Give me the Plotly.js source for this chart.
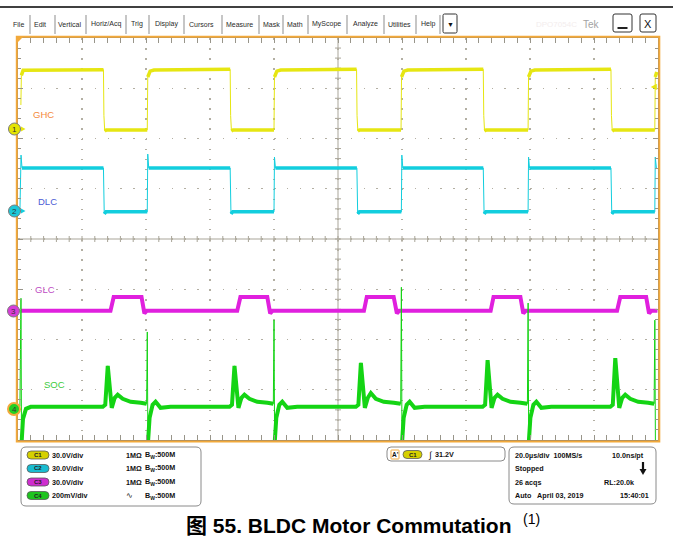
<!DOCTYPE html>
<html><head><meta charset="utf-8">
<script src="https://cdn.plot.ly/plotly-3.0.1.min.js"></script>
<style>html,body{margin:0;padding:0;background:#fff;}#chart{width:673px;height:550px;}</style>
</head><body><div id="chart"></div>
<script>
// ---------------- DATA (time in microseconds, values in volts) ----------------
const channelNames = ['GHC', 'DLC', 'GLC', 'SOC'];
const voltsPerDiv = [30, 30, 30, 0.2];
const timePerDiv = 20; // us/div, 10 divisions

const ghcTime = [0.9, 1.05, 1.6,
  26.7, 26.85, 27.1, 27.6, 40.4, 40.55, 41.3, 42.5,
  66.3, 66.45, 66.7, 67.2, 80.0, 80.15, 80.9, 82.1,
  105.8, 105.95, 106.2, 106.7, 119.7, 119.85, 120.6, 121.8,
  145.4, 145.55, 145.8, 146.3, 159.4, 159.55, 160.3, 161.5,
  185.3, 185.45, 185.7, 186.2, 199.0, 199.15, 199.6];
const ghcVolts = [14.3, 32.0, 35.0,
  35.4, 8.0, -1.2, -0.6, -0.6, 31.0, 34.5, 35.2,
  35.6, 8.0, -1.2, -0.6, -0.6, 31.0, 34.5, 35.2,
  35.6, 8.0, -1.2, -0.6, -0.6, 31.0, 34.5, 35.2,
  35.6, 8.0, -1.2, -0.6, -0.6, 31.0, 34.5, 35.2,
  35.6, 8.0, -1.2, -0.6, -0.6, 31.0, 34.0];

const dlcTime = [0.6, 0.95, 1.25,
  26.7, 26.95, 27.5, 40.4, 40.55, 40.85,
  66.3, 66.55, 67.1, 80.0, 80.15, 80.45,
  105.9, 106.15, 106.7, 119.8, 119.95, 120.25,
  145.4, 145.65, 146.2, 159.4, 159.55, 159.85,
  185.3, 185.55, 186.1, 199.0, 199.15, 199.5];
const dlcVolts = [-0.6, 33.3, 25.6,
  25.6, -1.8, -0.6, -0.6, 33.9, 25.6,
  25.6, -1.8, -0.6, -0.6, 32.1, 25.6,
  25.6, -1.8, -0.6, -0.6, 33.3, 25.6,
  25.6, -1.8, -0.6, -0.6, 32.1, 25.6,
  25.6, -1.8, -0.6, -0.6, 32.1, 25.6];

const glcTime = [0.9,
  28.9, 29.9, 38.6, 39.5, 40.2,
  68.5, 69.5, 77.9, 78.8, 79.5,
  108.1, 109.0, 117.4, 118.4, 119.1,
  147.7, 148.6, 157.0, 157.9, 158.6,
  187.2, 188.2, 196.3, 197.2, 197.9, 199.8];
const glcVolts = [0,
  0, 8.3, 8.3, -1.5, 0,
  0, 8.3, 8.3, -1.5, 0,
  0, 8.3, 8.3, -1.5, 0,
  0, 8.3, 8.3, -1.5, 0,
  0, 8.3, 8.3, -1.5, 0, 0];

const socTime = [0.6, 0.93, 1.1, 1.56, 2.49, 4.0,
  26.5, 27.27, 28.05, 28.67, 29.29, 30.23, 31.16, 32.72, 35.21, 38.33, 40.19, 40.41, 40.59, 41.12, 42.06, 42.99, 44.55, 47.67,
  66.1, 66.87, 67.65, 68.27, 68.89, 69.83, 70.76, 72.32, 74.81, 77.93, 79.79, 80.01, 80.19, 80.72, 81.66, 82.59, 84.15, 87.27,
  105.6, 106.37, 107.15, 107.77, 108.39, 109.33, 110.26, 111.82, 114.31, 117.43, 119.59, 119.81, 119.99, 120.52, 121.46, 122.39, 123.95, 127.07,
  145.2, 145.97, 146.75, 147.37, 147.99, 148.93, 149.86, 151.42, 153.91, 157.03, 159.19, 159.41, 159.59, 160.12, 161.06, 161.99, 163.55, 166.67,
  185.1, 185.87, 186.65, 187.27, 187.89, 188.83, 189.76, 191.32, 193.81, 196.93, 198.79, 199.01, 199.19, 199.5];
const socVolts = [0.010, 0.440, -0.140, -0.040, 0.000, 0.008,
  0.008, 0.016, 0.171, 0.095, 0.004, 0.044, 0.056, 0.040, 0.028, 0.024, 0.020, 0.306, -0.140, -0.036, 0.016, 0.028, 0.004, 0.008,
  0.008, 0.016, 0.171, 0.095, 0.004, 0.044, 0.056, 0.040, 0.028, 0.024, 0.020, 0.353, -0.140, -0.036, 0.016, 0.028, 0.004, 0.008,
  0.008, 0.016, 0.183, 0.095, 0.004, 0.044, 0.063, 0.040, 0.028, 0.024, 0.020, 0.484, -0.140, -0.036, 0.016, 0.028, 0.004, 0.008,
  0.008, 0.016, 0.194, 0.095, 0.004, 0.044, 0.056, 0.040, 0.028, 0.024, 0.020, 0.421, -0.140, -0.036, 0.016, 0.028, 0.004, 0.008,
  0.008, 0.016, 0.202, 0.095, 0.004, 0.044, 0.056, 0.040, 0.028, 0.024, 0.020, 0.353, -0.140, -0.140];

const channelSettings = ['30.0V/div', '30.0V/div', '30.0V/div', '200mV/div'];
const triggerLevel = '31.2V';
const acqInfo = ['20.0µs/div  100MS/s', '10.0ns/pt', 'Stopped', '26 acqs', 'RL:20.0k', 'Auto   April 03, 2019', '15:40:01'];
const menuItems = ['File', 'Edit', 'Vertical', 'Horiz/Acq', 'Trig', 'Display', 'Cursors', 'Measure', 'Mask', 'Math', 'MyScope', 'Analyze', 'Utilities', 'Help'];
const captionText = '图 55. BLDC Motor Commutation';

// ---------------- LAYOUT / STYLE ----------------
const L = 18, R = 658, T = 38, B = 440, FW = 673, FH = 550;
const W = R - L, H = B - T;
const X = p => (p - L) / W;
const Y = p => (B - p) / H;
const groundOffsetDiv = [2.19, 0.56, -1.43, -3.38];
const traceColors = ['#E6E612', '#12CEDE', '#E020DE', '#14D414'];
const bandWidth = [3.5, 3.5, 4, 4];
const FONT = "'Liberation Sans', Arial, sans-serif";

const series = [[ghcTime, ghcVolts], [dlcTime, dlcVolts], [glcTime, glcVolts], [socTime, socVolts]];
const traces = [{x: [null], y: [null], xaxis: 'x', yaxis: 'y', mode: 'lines', hoverinfo: 'skip', showlegend: false}];
series.forEach(([t, v], k) => {
  const ax = 'y' + (k + 2);
  traces.push({x: t, y: v, yaxis: ax, mode: 'lines', line: {color: traceColors[k], width: 1}, hoverinfo: 'skip', name: channelNames[k]});
  // thicker band on the flat (noisy) parts, gaps at fast edges
  const xs = [], ys = [];
  for (let i = 0; i < t.length; i++) {
    xs.push(t[i]); ys.push(v[i]);
    if (i < t.length - 1) {
      const dt = t[i + 1] - t[i];
      const dd = Math.abs(v[i + 1] - v[i]) / voltsPerDiv[k];
      if (dt < 0.4 && dd > 0.2) { xs.push(null); ys.push(null); }
    }
  }
  traces.push({x: xs, y: ys, yaxis: ax, mode: 'lines', connectgaps: false, line: {color: traceColors[k], width: bandWidth[k]}, hoverinfo: 'skip', name: channelNames[k]});
});

const gridCol = '#b3afa3', tickCol = '#98958a';
const layout = {
  width: FW, height: FH, margin: {l: L, r: FW - R, t: T, b: FH - B, pad: 0},
  paper_bgcolor: '#ffffff', plot_bgcolor: '#ffffff', showlegend: false,
  font: {family: FONT, color: '#222'},
  xaxis: {range: [0, 10 * timePerDiv], dtick: timePerDiv, tick0: 0, showgrid: true, gridcolor: gridCol, gridwidth: 1.2,
    griddash: '1.5px,8.55px', zeroline: false, showticklabels: false, ticks: 'inside', ticklen: 5, tickcolor: tickCol,
    showline: true, linecolor: '#7d7d7d', linewidth: 1.5, mirror: 'allticks',
    minor: {ticks: 'inside', dtick: timePerDiv / 5, ticklen: 3, tickcolor: tickCol, showgrid: false}, fixedrange: true},
  yaxis: {range: [-4, 4], dtick: 1, tick0: 0, showgrid: true, gridcolor: gridCol, gridwidth: 1.2,
    griddash: '1.5px,11.3px', zeroline: false, showticklabels: false, ticks: 'inside', ticklen: 5, tickcolor: tickCol,
    showline: true, linecolor: '#7d7d7d', linewidth: 1, mirror: 'allticks',
    minor: {ticks: 'inside', dtick: 0.2, ticklen: 3, tickcolor: tickCol, showgrid: false}, fixedrange: true},
  shapes: [], annotations: []
};
voltsPerDiv.forEach((s, k) => {
  const off = groundOffsetDiv[k];
  layout['yaxis' + (k + 2)] = {overlaying: 'y', range: [(-4 - off) * s, (4 - off) * s], visible: false, fixedrange: true};
});

const S = layout.shapes, A = layout.annotations;
// center crosshair
S.push({type: 'line', xref: 'x', yref: 'paper', x0: 5 * timePerDiv, x1: 5 * timePerDiv, y0: 0, y1: 1, line: {color: '#a9a599', width: 1}, layer: 'below'});
S.push({type: 'line', xref: 'paper', yref: 'y', x0: 0, x1: 1, y0: 0, y1: 0, line: {color: '#a9a599', width: 1}, layer: 'below'});
for (let i = 1; i < 50; i++) {
  const t = i * timePerDiv / 5;
  S.push({type: 'line', xref: 'x', yref: 'y', x0: t, x1: t, ysizemode: 'pixel', yanchor: 0, y0: -3, y1: 3, line: {color: '#a9a599', width: 1}, layer: 'below'});
}
for (let i = -19; i < 20; i++) {
  const d = i / 5;
  S.push({type: 'line', xref: 'x', yref: 'y', xsizemode: 'pixel', xanchor: 5 * timePerDiv, x0: -3, x1: 3, y0: d, y1: d, line: {color: '#a9a599', width: 1}, layer: 'below'});
}
// orange frame
const ORANGE = '#F2A93B';
S.push({type: 'rect', xref: 'paper', yref: 'paper', x0: X(16.8), x1: X(659.3), y0: Y(441.6), y1: Y(36.8), line: {color: ORANGE, width: 2}, layer: 'above'});
S.push({type: 'path', xref: 'paper', yref: 'paper', path: `M ${X(17)},${Y(37)} L ${X(23)},${Y(37)} L ${X(17)},${Y(43)} Z`, fillcolor: ORANGE, line: {width: 0}, layer: 'above'});

function rr(x0, y0, x1, y1, r) {
  return `M ${X(x0 + r)},${Y(y0)} L ${X(x1 - r)},${Y(y0)} Q ${X(x1)},${Y(y0)} ${X(x1)},${Y(y0 + r)} L ${X(x1)},${Y(y1 - r)} Q ${X(x1)},${Y(y1)} ${X(x1 - r)},${Y(y1)} L ${X(x0 + r)},${Y(y1)} Q ${X(x0)},${Y(y1)} ${X(x0)},${Y(y1 - r)} L ${X(x0)},${Y(y0 + r)} Q ${X(x0)},${Y(y0)} ${X(x0 + r)},${Y(y0)} Z`;
}
function box(x0, y0, x1, y1, r, line, fill, lw) {
  S.push({type: 'path', xref: 'paper', yref: 'paper', path: rr(x0, y0, x1, y1, r), line: {color: line, width: lw || 1}, fillcolor: fill || 'rgba(0,0,0,0)', layer: 'above'});
}
function txt(x, y, text, size, opts) {
  opts = opts || {};
  A.push(Object.assign({xref: 'paper', yref: 'paper', x: X(x), y: Y(y), text: text, showarrow: false,
    xanchor: 'left', yanchor: 'middle', font: {family: FONT, size: size, color: opts.color || '#111'}}, opts.extra || {}));
}
function line(x0, y0, x1, y1, color, w) {
  S.push({type: 'line', xref: 'paper', yref: 'paper', x0: X(x0), x1: X(x1), y0: Y(y0), y1: Y(y1), line: {color: color, width: w}, layer: 'above'});
}

// top menu bar
line(0, 7, 673, 7, '#000', 1.5);
const menuCenters = [18, 39.5, 69.5, 106, 136.5, 166, 201.5, 239.5, 271, 294.5, 326, 365, 399, 428];
const seps = [30, 55, 86, 126, 149, 184, 222, 259, 283, 308, 347, 384, 416, 440];
menuItems.forEach((m, i) => txt(menuCenters[i], 24, m, 7, {color: '#2a2a2a', extra: {xanchor: 'center'}}));
seps.forEach(s => line(s, 15, s, 34, '#8d8d8d', 1));
box(443, 14, 457, 33, 1.5, '#333', '#fff', 1);
txt(450, 24, '▼', 7, {extra: {xanchor: 'center'}});
txt(556, 24, 'DPO7054C', 8, {color: '#f3eded', extra: {xanchor: 'center'}});
txt(591, 24, 'Tek', 10, {color: '#a3a3a3', extra: {xanchor: 'center'}});
box(613, 14, 632, 32, 2, '#333', '#fff', 1);
line(617.5, 28, 627.5, 28, '#222', 2);
box(640, 14, 656, 32, 2, '#333', '#fff', 1);
txt(648, 23.5, 'X', 11, {extra: {xanchor: 'center'}});

// channel ground markers
const markerPos = [[14.5, 129], [14.5, 211], [13.5, 311], [14, 409]];
const markerFill = ['#E4E400', '#1CC8D8', '#D83CD8', '#22D022'];
markerPos.forEach(([cx, cy], k) => {
  S.push({type: 'circle', xref: 'paper', yref: 'paper', x0: X(cx - 6), x1: X(cx + 6), y0: Y(cy + 6), y1: Y(cy - 6),
    fillcolor: markerFill[k], line: {color: k === 3 ? ORANGE : '#7a7a7a', width: k === 3 ? 2 : 1}, layer: 'above'});
  txt(cx, cy + 0.5, String(k + 1), 8, {color: '#333', extra: {xanchor: 'center'}});
  if (k < 2) {
    S.push({type: 'path', xref: 'paper', yref: 'paper', path: `M ${X(21)},${Y(cy - 2.5)} L ${X(25.5)},${Y(cy)} L ${X(21)},${Y(cy + 2.5)} Z`,
      fillcolor: traceColors[k], line: {width: 0}, layer: 'above'});
  }
});
// trigger level arrow on right
txt(654, 87, '◀', 8, {color: '#E6E612', extra: {xanchor: 'center'}});

// channel labels
const labelPos = [[31, 115], [36, 201], [33, 289], [42, 384]];
const labelCol = ['#F48A3C', '#4B5BD4', '#BE4CC4', '#3CCB3C'];
channelNames.forEach((n, k) => txt(labelPos[k][0], labelPos[k][1], n, 9.5, {color: labelCol[k]}));

// bottom-left channel panel
box(21, 447, 201, 506, 5, '#8a8a8a', '#fff', 1);
const rowsY = [455, 468.5, 482, 495.5];
const pillFill = ['#D6D000', '#19BCD0', '#CF2ECF', '#1EC41E'];
rowsY.forEach((ry, k) => {
  box(27, ry - 4, 49, ry + 4, 4, '#5a5a5a', pillFill[k], 0.8);
  txt(38, ry, '<b>C' + (k + 1) + '</b>', 6, {color: '#222', extra: {xanchor: 'center'}});
  txt(50, ry, '<b>' + channelSettings[k] + '</b>', 7.2);
  if (k < 3) txt(124, ry, '<b>1MΩ</b>', 7.2); else txt(124, ry, '∿', 8);
  txt(143, ry, '<b>B<sub>W</sub>:500M</b>', 7.2);
});

// trigger panel
box(387, 447, 505, 461, 4, '#8a8a8a', '#fff', 1);
box(391, 450, 399, 459, 0.5, ORANGE, '#fff', 1);
txt(395, 454.5, "<b>A'</b>", 6.5, {extra: {xanchor: 'center'}});
box(403, 450.5, 422, 458.5, 4, '#5a5a5a', pillFill[0], 0.8);
txt(412.5, 454.5, '<b>C1</b>', 6, {color: '#222', extra: {xanchor: 'center'}});
txt(426, 454.5, '∫', 9);
txt(433, 454.5, '<b>' + triggerLevel + '</b>', 7.2);

// acquisition panel
box(509, 447, 656, 504, 5, '#8a8a8a', '#fff', 1);
txt(513, 455, '<b>' + acqInfo[0] + '</b>', 7.2);
txt(610, 455, '<b>' + acqInfo[1] + '</b>', 7.2);
txt(513, 468.5, '<b>' + acqInfo[2] + '</b>', 7.2);
line(643, 462, 643, 470, '#111', 2.2);
S.push({type: 'path', xref: 'paper', yref: 'paper', path: `M ${X(639.5)},${Y(469)} L ${X(646.5)},${Y(469)} L ${X(643)},${Y(475)} Z`, fillcolor: '#111', line: {width: 0}, layer: 'above'});
txt(513, 482, '<b>' + acqInfo[3] + '</b>', 7.2);
txt(602, 482, '<b>' + acqInfo[4] + '</b>', 7.2);
txt(513, 495.5, '<b>' + acqInfo[5] + '</b>', 7.2);
txt(618, 495.5, '<b>' + acqInfo[6] + '</b>', 7.2);

// caption
A.push({xref: 'paper', yref: 'paper', x: X(184), y: Y(525), xanchor: 'left', yanchor: 'middle', showarrow: false,
  text: '<b>' + captionText + '</b>', font: {family: "'Liberation Sans', 'Noto Sans CJK SC', Arial, sans-serif", size: 21, color: '#000'}});
A.push({xref: 'paper', yref: 'paper', x: X(521), y: Y(519), xanchor: 'left', yanchor: 'middle', showarrow: false,
  text: '(1)', font: {family: "'Liberation Sans', Arial, sans-serif", size: 14, color: '#000'}});

Plotly.newPlot('chart', traces, layout, {staticPlot: true, displayModeBar: false});
</script>
</body></html>
